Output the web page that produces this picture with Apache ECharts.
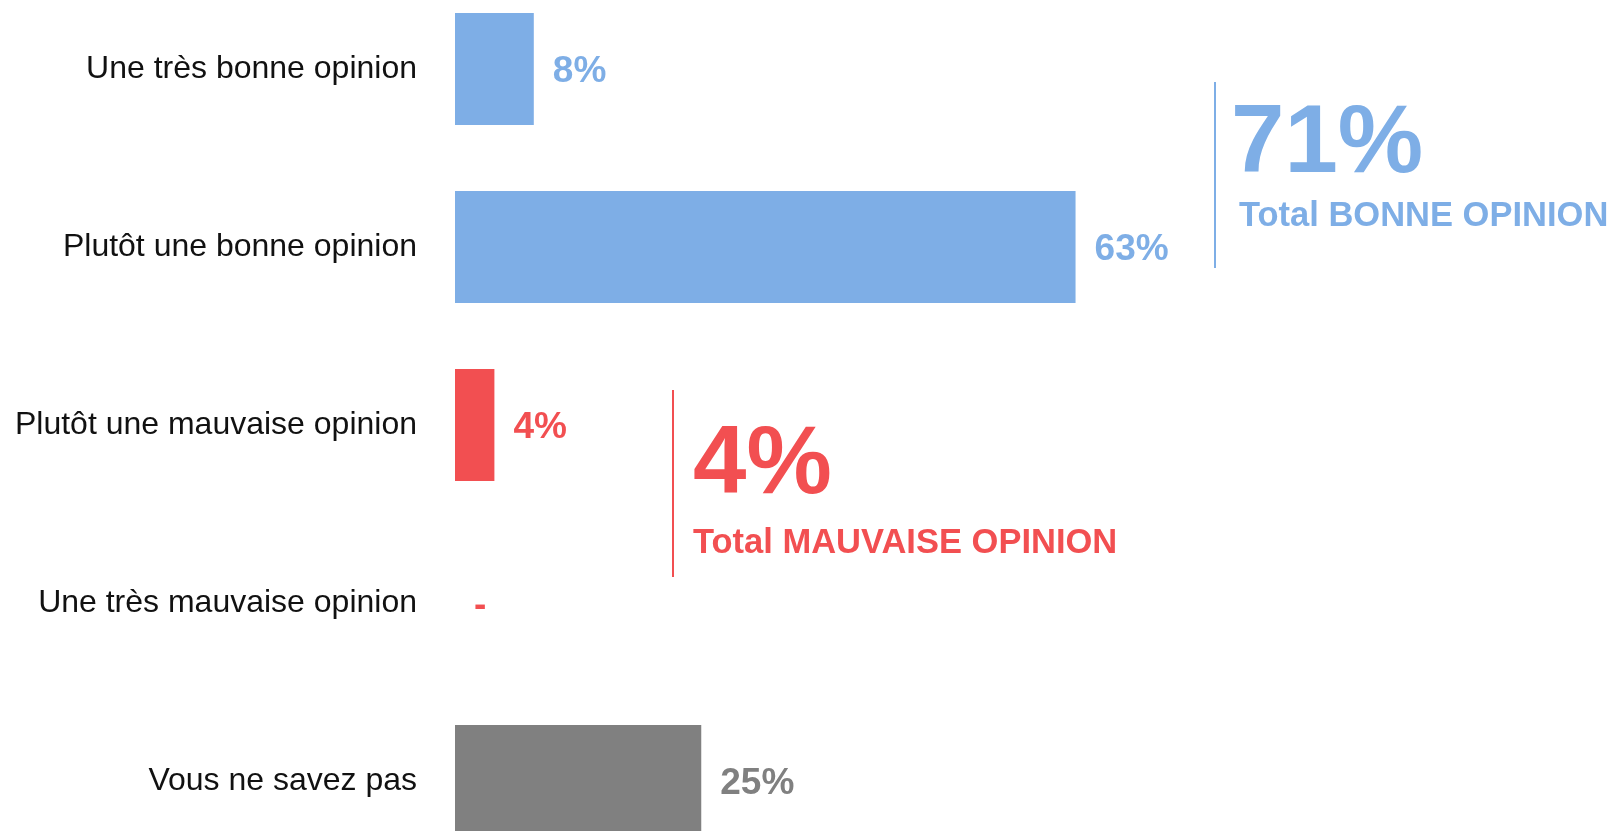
<!DOCTYPE html>
<html>
<head>
<meta charset="utf-8">
<style>
  html, body { margin: 0; padding: 0; background: #fff; }
  #main { width: 1614px; height: 831px; }
</style>
<script src="https://cdn.jsdelivr.net/npm/echarts@6/dist/echarts.min.js"></script>
</head>
<body>
<div id="main"></div>
<script>
var myChart = echarts.init(document.getElementById('main'));

// categories, values (%) and colours of each bar
var categories = [
    'Une très bonne opinion',
    'Plutôt une bonne opinion',
    'Plutôt une mauvaise opinion',
    'Une très mauvaise opinion',
    'Vous ne savez pas'
];
var values = [8, 63, 4, 0, 25];
var groups = ['bonne', 'bonne', 'mauvaise', 'mauvaise', 'nsp'];

var colors = {
    bonne: '#7eaee6',
    mauvaise: '#f24f51',
    nsp: '#808080'
};

var totalBonne = 0, totalMauvaise = 0;
values.forEach(function (v, i) {
    if (groups[i] === 'bonne') totalBonne += v;
    if (groups[i] === 'mauvaise') totalMauvaise += v;
});

var barData = values.map(function (v, i) {
    var c = colors[groups[i]];
    return {
        value: v,
        itemStyle: { color: c },
        label: { color: c }
    };
});

var bigFont = 'bold 96px "Liberation Sans", Arial';
var subFont = 'bold 34.5px "Liberation Sans", Arial';

option = {
    backgroundColor: '#fff',
    animation: false,
    grid: {
        left: 455,
        width: 985,
        top: -20,
        height: 890,
        outerBoundsMode: 'none'
    },
    xAxis: {
        type: 'value',
        min: 0,
        max: 100,
        show: false
    },
    yAxis: {
        type: 'category',
        data: categories,
        inverse: true,
        axisLine: { show: false },
        axisTick: { show: false },
        splitLine: { show: false },
        axisLabel: {
            margin: 38,
            fontSize: 32,
            color: '#111',
            fontFamily: 'Liberation Sans',
            padding: [4, 0, 0, 0]
        }
    },
    series: [
        {
            type: 'bar',
            data: barData,
            barWidth: 112,
            label: {
                show: true,
                position: 'right',
                distance: 19,
                offset: [0, 3],
                fontSize: 37,
                fontWeight: 'bold',
                fontFamily: 'Liberation Sans',
                formatter: function (p) {
                    return p.value === 0 ? '-' : p.value + '%';
                }
            }
        }
    ],
    graphic: [
        // total bonne opinion
        {
            type: 'line',
            shape: { x1: 1215, y1: 82, x2: 1215, y2: 268 },
            style: { stroke: colors.bonne, lineWidth: 2 }
        },
        {
            type: 'text',
            x: 1231, y: 146,
            style: {
                text: totalBonne + '%',
                font: bigFont,
                fill: colors.bonne,
                verticalAlign: 'middle'
            }
        },
        {
            type: 'text',
            x: 1239, y: 216,
            style: {
                text: 'Total BONNE OPINION',
                font: subFont,
                fill: colors.bonne,
                verticalAlign: 'middle'
            }
        },
        // total mauvaise opinion
        {
            type: 'line',
            shape: { x1: 673, y1: 390, x2: 673, y2: 577 },
            style: { stroke: colors.mauvaise, lineWidth: 2 }
        },
        {
            type: 'text',
            x: 693, y: 467,
            style: {
                text: totalMauvaise + '%',
                font: bigFont,
                fill: colors.mauvaise,
                verticalAlign: 'middle'
            }
        },
        {
            type: 'text',
            x: 693, y: 543,
            style: {
                text: 'Total MAUVAISE OPINION',
                font: subFont,
                fill: colors.mauvaise,
                verticalAlign: 'middle'
            }
        }
    ]
};

myChart.setOption(option);
</script>
</body>
</html>
